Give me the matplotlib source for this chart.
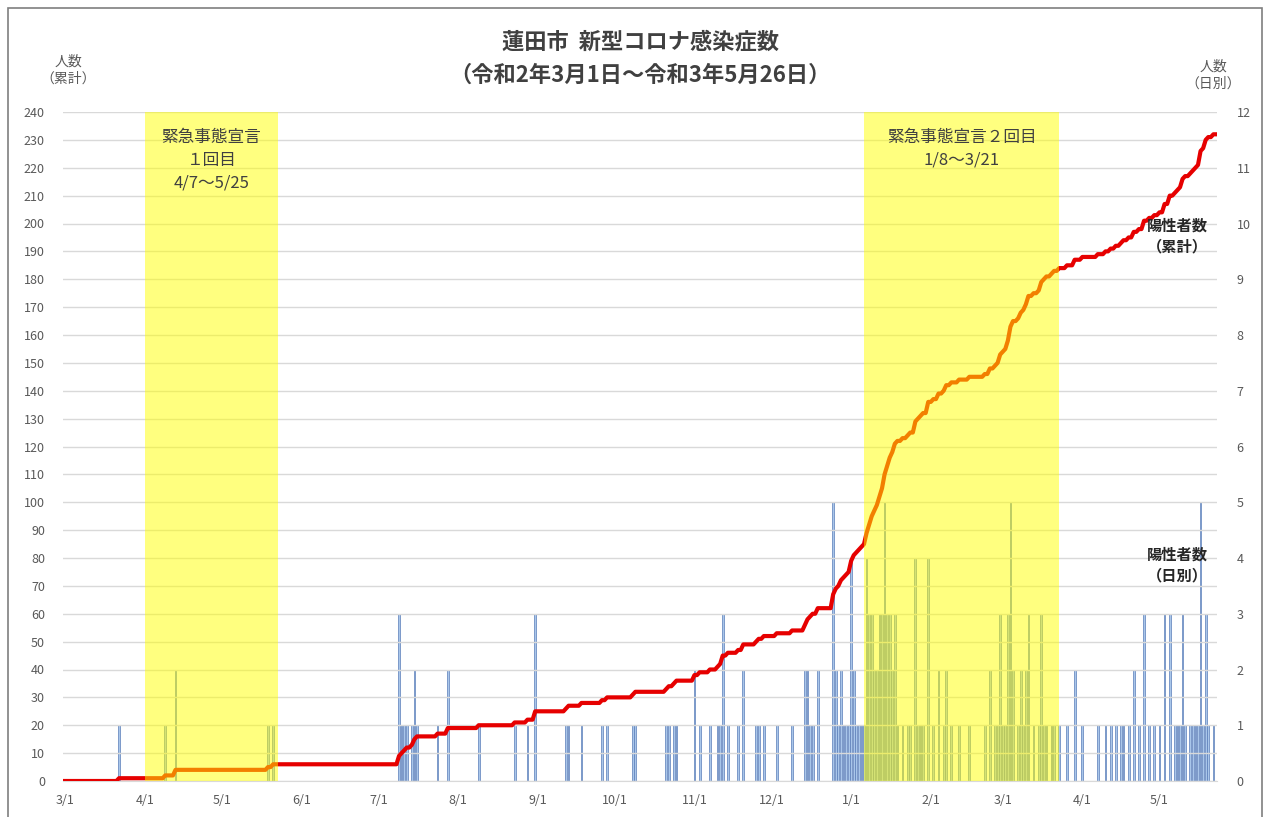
import matplotlib
matplotlib.use("Agg")
import matplotlib.pyplot as plt
import matplotlib.dates as mdates
from matplotlib.patches import Rectangle
import pandas as pd

plt.rcParams['font.family'] = ['Noto Sans CJK JP', 'DejaVu Sans']

# daily positive cases (days with no case are zero)
case_dates = [
    '2020-03-22', '2020-04-09', '2020-04-13', '2020-05-19', '2020-05-21',
    '2020-07-09', '2020-07-10', '2020-07-11', '2020-07-12', '2020-07-14',
    '2020-07-15', '2020-07-16', '2020-07-24', '2020-07-28', '2020-08-09',
    '2020-08-23', '2020-08-28', '2020-08-31', '2020-09-12', '2020-09-13',
    '2020-09-18', '2020-09-26', '2020-09-28', '2020-10-08', '2020-10-09',
    '2020-10-21', '2020-10-22', '2020-10-24', '2020-10-25', '2020-11-01',
    '2020-11-03', '2020-11-07', '2020-11-10', '2020-11-11', '2020-11-12',
    '2020-11-14', '2020-11-18', '2020-11-20', '2020-11-25', '2020-11-26',
    '2020-11-28', '2020-12-03', '2020-12-09', '2020-12-14', '2020-12-15',
    '2020-12-16', '2020-12-17', '2020-12-19', '2020-12-25', '2020-12-26',
    '2020-12-27', '2020-12-28', '2020-12-29', '2020-12-30', '2020-12-31',
    '2021-01-01', '2021-01-02', '2021-01-03', '2021-01-04', '2021-01-05',
    '2021-01-06', '2021-01-07', '2021-01-08', '2021-01-09', '2021-01-10',
    '2021-01-11', '2021-01-12', '2021-01-13', '2021-01-14', '2021-01-15',
    '2021-01-16', '2021-01-17', '2021-01-18', '2021-01-19', '2021-01-21',
    '2021-01-23', '2021-01-24', '2021-01-26', '2021-01-27', '2021-01-28',
    '2021-01-29', '2021-01-31', '2021-02-02', '2021-02-04', '2021-02-06',
    '2021-02-07', '2021-02-09', '2021-02-12', '2021-02-16', '2021-02-22',
    '2021-02-24', '2021-02-26', '2021-02-27', '2021-02-28', '2021-03-01',
    '2021-03-02', '2021-03-03', '2021-03-04', '2021-03-05', '2021-03-07',
    '2021-03-08', '2021-03-09', '2021-03-10', '2021-03-11', '2021-03-13',
    '2021-03-15', '2021-03-16', '2021-03-17', '2021-03-18', '2021-03-20',
    '2021-03-21', '2021-03-23', '2021-03-26', '2021-03-29', '2021-04-01',
    '2021-04-07', '2021-04-10', '2021-04-12', '2021-04-14', '2021-04-16',
    '2021-04-17', '2021-04-19', '2021-04-21', '2021-04-23', '2021-04-25',
    '2021-04-27', '2021-04-29', '2021-05-01', '2021-05-03', '2021-05-05',
    '2021-05-07', '2021-05-08', '2021-05-09', '2021-05-10', '2021-05-11',
    '2021-05-13', '2021-05-14', '2021-05-15', '2021-05-16', '2021-05-17',
    '2021-05-18', '2021-05-19', '2021-05-20', '2021-05-22',
]
case_counts = [
    1, 1, 2, 1, 1,
    3, 1, 1, 1, 1,
    2, 1, 1, 2, 1,
    1, 1, 3, 1, 1,
    1, 1, 1, 1, 1,
    1, 1, 1, 1, 2,
    1, 1, 1, 1, 3,
    1, 1, 2, 1, 1,
    1, 1, 1, 2, 2,
    1, 1, 2, 5, 2,
    1, 2, 1, 1, 1,
    4, 2, 1, 1, 1,
    1, 4, 3, 3, 2,
    2, 3, 3, 5, 3,
    3, 2, 3, 1, 1,
    1, 1, 4, 1, 1,
    1, 4, 1, 2, 1,
    2, 1, 1, 1, 1,
    2, 1, 1, 3, 1,
    1, 3, 5, 2, 1,
    2, 1, 2, 3, 1,
    1, 3, 1, 1, 1,
    1, 1, 1, 2, 1,
    1, 1, 1, 1, 1,
    1, 1, 2, 1, 3,
    1, 1, 1, 3, 3,
    1, 1, 1, 3, 1,
    1, 1, 1, 1, 5,
    1, 3, 1, 1,
]

start_date = '2020-03-01'
end_date = '2021-05-26'
axis_end = '2021-05-23'

# state of emergency periods (as drawn on the original)
bands = [('2020-04-01', '2020-05-23'), ('2021-01-06', '2021-03-23')]
band_labels = ['緊急事態宣言\n１回目\n4/7～5/25', '緊急事態宣言２回目\n1/8～3/21']

days = pd.date_range(start_date, end_date)
daily = pd.Series(0, index=days)
daily[pd.to_datetime(case_dates)] = case_counts
cumulative = daily.cumsum()

W, H = 1266, 817
fig = plt.figure(figsize=(W / 100, H / 100), dpi=100)
fig.patch.set_facecolor('white')

# outer frame
fig.patches.append(Rectangle((8 / W, -0.01), 1254 / W, 1 - 8 / H + 0.01,
                             transform=fig.transFigure, fill=False,
                             edgecolor='#7f7f7f', linewidth=1.2))

ax = fig.add_axes([63 / W, 1 - 781 / H, (1217 - 63) / W, (781 - 112) / H])
ax2 = ax.twinx()
ax.set_zorder(ax2.get_zorder() + 1)
ax.patch.set_visible(False)

# daily bars on right axis
bar_x = pd.to_datetime(case_dates)
ax2.bar(bar_x, case_counts, width=0.7, color='#a9c6ea',
        edgecolor='#5a7db8', linewidth=0.5)
ax2.set_ylim(0, 12)
ax2.set_yticks(range(0, 13))

# cumulative line on left axis
ax.plot(cumulative.index, cumulative.values, color='#e60000',
        linewidth=3, solid_joinstyle='round', zorder=3)
ax.set_ylim(0, 240)
ax.set_yticks(range(0, 241, 10))
ax.grid(axis='y', color='#d9d9d9', linewidth=1)
ax.set_axisbelow(True)

x0 = mdates.date2num(pd.Timestamp(start_date)) - 0.8
x1 = mdates.date2num(pd.Timestamp(axis_end)) + 0.4
ax.set_xlim(x0, x1)

months = pd.date_range(start_date, end_date, freq='MS')
ax.set_xticks(months)
ax.set_xticklabels([f'{d.month}/{d.day}' for d in months])

for a in (ax, ax2):
    for s in a.spines.values():
        s.set_visible(False)
    a.tick_params(length=0, labelsize=9, labelcolor='#595959')
ax.spines['bottom'].set_visible(True)
ax.spines['bottom'].set_color('#d9d9d9')
ax.tick_params(axis='y', pad=13)
ax.tick_params(axis='x', pad=9)
ax2.tick_params(axis='y', pad=14)

# yellow overlays on top of everything
for (b0, b1) in bands:
    ax.axvspan(pd.Timestamp(b0), pd.Timestamp(b1), color='#ffff00',
               alpha=0.5, linewidth=0, zorder=5)

ax.text(pd.Timestamp('2020-04-27'), 234, band_labels[0], ha='center', va='top',
        fontsize=12, color='#404040', linespacing=1.45, zorder=6)
ax.text(pd.Timestamp('2021-02-13'), 234, band_labels[1], ha='center', va='top',
        fontsize=12, color='#404040', linespacing=1.45, zorder=6)

ax.text(1208 / W, 1 - 236 / H, '陽性者数\n（累計）', transform=fig.transFigure,
        ha='right', va='center', fontsize=11, fontweight='bold',
        color='#262626', linespacing=1.4, zorder=6)
ax.text(1208 / W, 1 - 565 / H, '陽性者数\n（日別）', transform=fig.transFigure,
        ha='right', va='center', fontsize=11, fontweight='bold',
        color='#262626', linespacing=1.4, zorder=6)

fig.text(640 / W, 1 - 42 / H, '蓮田市  新型コロナ感染症数', ha='center',
         va='center', fontsize=16, fontweight='bold', color='#404040')
fig.text(640 / W, 1 - 75 / H, '（令和2年3月1日～令和3年5月26日）', ha='center',
         va='center', fontsize=16, fontweight='bold', color='#404040')

fig.text(68 / W, 1 - 70 / H, '人数\n（累計）', ha='center', va='center',
         fontsize=10, color='#595959', linespacing=1.3)
fig.text(1213 / W, 1 - 75 / H, '人数\n（日別）', ha='center', va='center',
         fontsize=10, color='#595959', linespacing=1.3)

fig.savefig('out.png', dpi=100)
